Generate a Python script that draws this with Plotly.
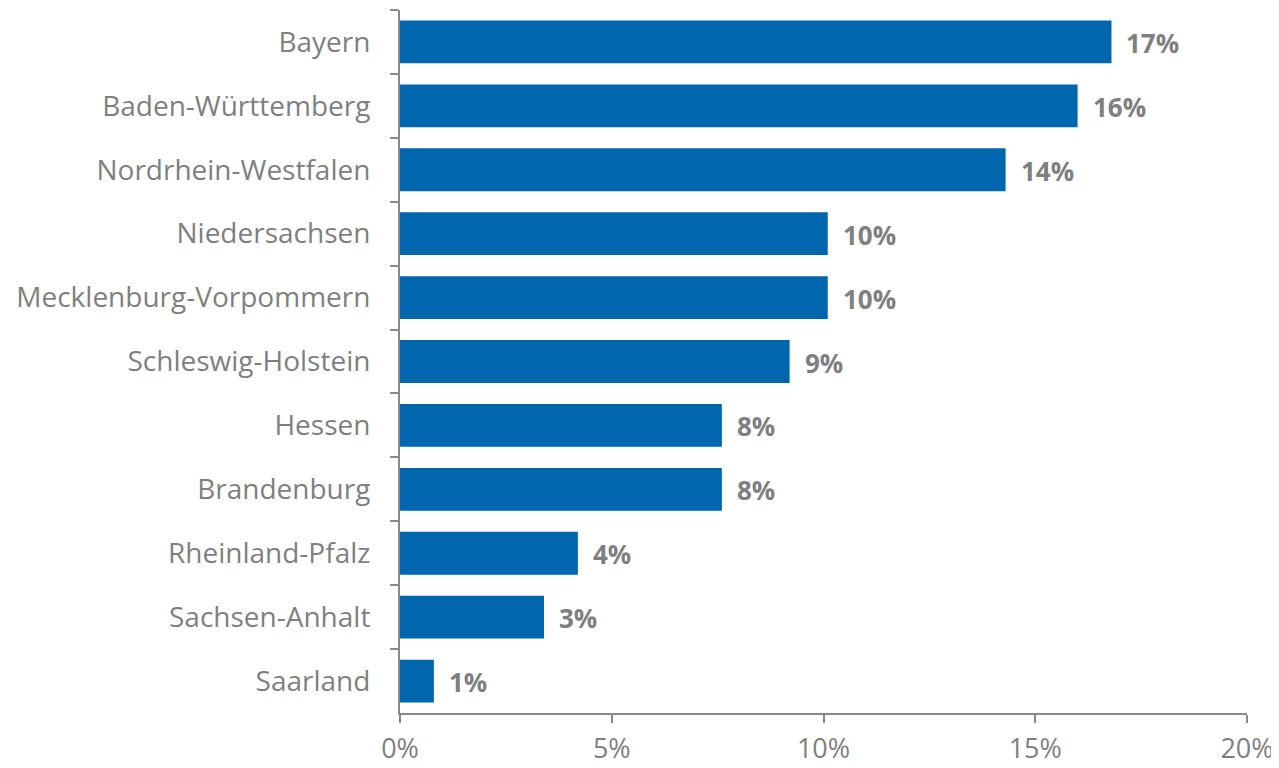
import plotly.graph_objects as go

states = ["Bayern", "Baden-Württemberg", "Nordrhein-Westfalen", "Niedersachsen",
          "Mecklenburg-Vorpommern", "Schleswig-Holstein", "Hessen", "Brandenburg",
          "Rheinland-Pfalz", "Sachsen-Anhalt", "Saarland"]
shares = [16.8, 16.0, 14.3, 10.1, 10.1, 9.2, 7.6, 7.6, 4.2, 3.4, 0.8]
labels = ["17%", "16%", "14%", "10%", "10%", "9%", "8%", "8%", "4%", "3%", "1%"]
x_ticks = [0, 5, 10, 15, 20]
x_tick_text = ["0%", "5%", "10%", "15%", "20%"]

gray = "#7f7f7f"
axis_col = "#898989"

fig = go.Figure()
fig.add_trace(go.Bar(
    y=states, x=shares, orientation="h",
    marker=dict(color="#0066ae", line=dict(width=0)),
    hoverinfo="skip",
))
for s, v, t in zip(states, shares, labels):
    fig.add_annotation(x=v, y=s, text="<b>" + t + "</b>", showarrow=False,
                       xanchor="left", xshift=13, yshift=-1,
                       font=dict(family="Open Sans", size=26, color=gray))

fig.update_layout(
    width=1271, height=760,
    margin=dict(l=392, r=32, t=2, b=55),
    paper_bgcolor="white", plot_bgcolor="white",
    bargap=0.33, showlegend=False,
    font=dict(family="Open Sans", size=26, color=gray),
    xaxis=dict(range=[0, 20], tickvals=x_ticks, ticktext=x_tick_text,
               showgrid=False, zeroline=False, showline=True,
               linecolor=axis_col, linewidth=2, ticks="outside",
               ticklen=8, tickwidth=2, tickcolor=axis_col,
               ticklabelstandoff=3, ticklabeloverflow="allow",
               automargin=False,
               tickfont=dict(size=27, color=gray)),
    yaxis=dict(autorange="reversed", showgrid=False, showline=True,
               linecolor=axis_col, linewidth=2, ticks="outside",
               tickson="boundaries", ticklen=8, tickwidth=2, tickcolor=axis_col,
               ticklabelstandoff=22, automargin=False,
               tickfont=dict(size=28, color=gray)),
)
fig.write_html("out.html")
